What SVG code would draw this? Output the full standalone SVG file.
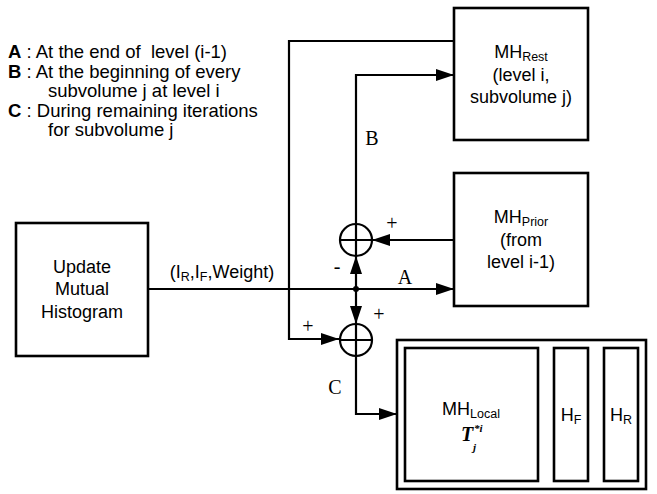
<svg xmlns="http://www.w3.org/2000/svg" width="657" height="494" viewBox="0 0 657 494">
<style>
.box{fill:#fff;stroke:#000;stroke-width:2.6}
.ln{fill:none;stroke:#000;stroke-width:2.2}
.t{font-family:"Liberation Sans",Arial,sans-serif;font-size:18px;fill:#000}
.lg{font-size:18.5px}
.c{text-anchor:middle}
.sub{font-size:12.5px}
.s{font-family:"Liberation Serif","Times New Roman",serif;font-size:20px;fill:#000;text-anchor:middle}
.m{font-family:"Liberation Serif","Times New Roman",serif;font-weight:bold;font-style:italic;fill:#000}
</style>
<defs>
<marker id="arr" markerUnits="userSpaceOnUse" markerWidth="18" markerHeight="12" refX="18" refY="6" orient="auto">
<path d="M0,0 L18,6 L0,12 z" fill="#000"/>
</marker>
</defs>
<g id="legend">
<text class="t lg" x="8" y="58" style="white-space:pre"><tspan font-weight="bold">A</tspan> : At the end of  level (i-1)</text>
<text class="t lg" x="8" y="77.5"><tspan font-weight="bold">B</tspan> : At the beginning of every</text>
<text class="t lg" x="48" y="97">subvolume j at level i</text>
<text class="t lg" x="8" y="116.5"><tspan font-weight="bold">C</tspan> : During remaining iterations</text>
<text class="t lg" x="48" y="136">for subvolume j</text>
</g>
<g id="connectors">
<path class="ln" d="M454,41 H289 V339 H339" marker-end="url(#arr)"/>
<path class="ln" d="M356,224 V75 H454" marker-end="url(#arr)"/>
<path class="ln" d="M454,240 H372" marker-end="url(#arr)"/>
<path class="ln" d="M148,289 H454" marker-end="url(#arr)"/>
<path class="ln" d="M356,289 V256" marker-end="url(#arr)"/>
<path class="ln" d="M356,289 V324" marker-end="url(#arr)"/>
<path class="ln" d="M356,356 V414 H397" marker-end="url(#arr)"/>
<circle cx="356" cy="289" r="3" fill="#000"/>
<text class="s" x="372" y="145">B</text>
<text class="s" x="405" y="284">A</text>
<text class="s" x="335" y="394">C</text>
<text class="s" x="392" y="230">+</text>
<text class="s" x="337" y="273">-</text>
<text class="s" x="379" y="321">+</text>
<text class="s" x="308" y="333">+</text>
<text class="t c" x="222" y="278">(I<tspan class="sub" dy="3">R</tspan><tspan dy="-3">,I</tspan><tspan class="sub" dy="3">F</tspan><tspan dy="-3">,Weight)</tspan></text>
</g>
<g id="sum-upper">
<circle class="ln" cx="356" cy="240" r="16" fill="#fff"/>
<path class="ln" d="M340,240 H372 M356,224 V256"/>
</g>
<g id="sum-lower">
<circle class="ln" cx="356" cy="340" r="16" fill="#fff"/>
<path class="ln" d="M340,340 H372 M356,324 V356"/>
</g>
<g id="update">
<rect class="box" x="16" y="223" width="132" height="133"/>
<text class="t c" x="82" y="273">Update</text>
<text class="t c" x="82" y="295">Mutual</text>
<text class="t c" x="82" y="318">Histogram</text>
</g>
<g id="mhrest">
<rect class="box" x="454" y="8" width="134" height="132"/>
<text class="t c" x="521" y="58">MH<tspan class="sub" dy="3">Rest</tspan></text>
<text class="t c" x="521" y="81">(level i,</text>
<text class="t c" x="521" y="103">subvolume j)</text>
</g>
<g id="mhprior">
<rect class="box" x="454" y="173" width="134" height="133"/>
<text class="t c" x="521" y="223">MH<tspan class="sub" dy="3">Prior</tspan></text>
<text class="t c" x="521" y="246">(from</text>
<text class="t c" x="521" y="268">level i-1)</text>
</g>
<g id="local">
<rect class="box" x="397" y="340" width="249" height="149"/>
<rect class="box" x="405" y="348" width="133" height="133"/>
<rect class="box" x="554" y="348" width="34" height="133"/>
<rect class="box" x="604" y="348" width="34" height="133"/>
<text class="t c" x="471" y="415">MH<tspan class="sub" dy="3">Local</tspan></text>
<text class="m" x="461" y="441" font-size="20">T</text>
<text class="m" x="473" y="451" font-size="11">j</text>
<text class="m" x="474" y="432" font-size="11">*i</text>
<text class="t c" x="571" y="421">H<tspan class="sub" dy="3">F</tspan></text>
<text class="t c" x="621" y="421">H<tspan class="sub" dy="3">R</tspan></text>
</g>
</svg>
